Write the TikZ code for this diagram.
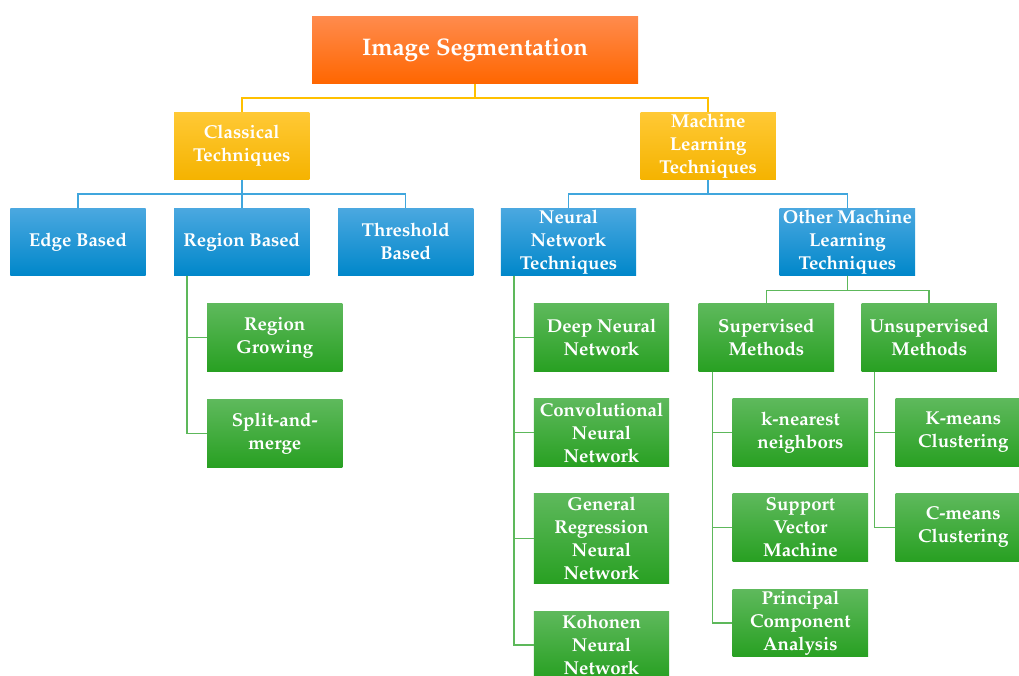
\documentclass[tikz,border=0pt]{standalone}
\usepackage[T1]{fontenc}
\usepackage{mathpazo}
\usetikzlibrary{positioning}
\definecolor{orgtop}{HTML}{FF8B4D}
\definecolor{orgbot}{HTML}{FF6600}
\definecolor{yeltop}{HTML}{FFC935}
\definecolor{yelmid}{HTML}{FFC000}
\definecolor{yelbot}{HTML}{F5B300}
\definecolor{blutop}{HTML}{4BA8E0}
\definecolor{blumid}{HTML}{0099DA}
\definecolor{blubot}{HTML}{0087CA}
\definecolor{grntop}{HTML}{5EB95C}
\definecolor{grnmid}{HTML}{38B030}
\definecolor{grnbot}{HTML}{28A022}
\definecolor{yelline}{HTML}{FFC000}
\definecolor{bluline}{HTML}{40A6DD}
\definecolor{grnline}{HTML}{5DB85B}
\begin{document}
\begin{tikzpicture}[
    x=0.75pt, y=-0.75pt,
    node distance=21pt,
    box/.style   ={align=center, inner sep=1pt, minimum width=101.5pt,
                   minimum height=50.5pt, text=white,
                   font=\fontsize{14}{17.25}\selectfont\bfseries},
    topbox/.style={box, top color=orgtop, bottom color=orgbot,
                   minimum width=244.5pt, font=\fontsize{18}{21}\selectfont\bfseries},
    ybox/.style  ={box, top color=yeltop, middle color=yelmid, bottom color=yelbot},
    bbox/.style  ={box, top color=blutop, middle color=blumid, bottom color=blubot},
    gbox/.style  ={box, top color=grntop, middle color=grnmid, bottom color=grnbot},
    yline/.style ={draw=yelline, line width=1.2pt},
    bline/.style ={draw=bluline, line width=1.2pt},
    gline/.style ={draw=grnline, line width=1.2pt},
]
\useasboundingbox (0,0) rectangle (1019,675);
\clip (0,0) rectangle (1019,675);
% root
\node[topbox] at (475,50) (seg) {Image Segmentation};
% second level
\node[ybox, below left=21pt and 1.5pt of seg] (cls) {Classical\\Techniques};
\node[ybox, below right=21pt and 1.5pt of seg] (ml) {Machine\\Learning\\Techniques};
% classical branch
\node[bbox, below=of cls] (region) {Region Based};
\node[bbox, left=of region] (edge) {Edge Based};
\node[bbox, right=of region] (thresh) {Threshold\\Based};
\node[gbox, below=of region, xshift=24.75pt] (grow) {Region\\Growing};
\node[gbox, below=of grow] (split) {Split-and-\\merge};
% machine learning branch
\node[bbox, right=20.25pt of thresh] (nn) {Neural\\Network\\Techniques};
\node[bbox, right=107.25pt of nn] (oml) {Other Machine\\Learning\\Techniques};
\node[gbox, below=of nn, xshift=24.75pt] (dnn) {Deep Neural\\Network};
\node[gbox, below=20.25pt of dnn] (cnn) {Convolutional\\Neural\\Network};
\node[gbox, below=20.25pt of cnn, minimum height=67.5pt] (grnn) {General\\Regression\\Neural\\Network};
\node[gbox, below=20.25pt of grnn] (koh) {Kohonen\\Neural\\Network};
% other methods
\node[gbox, below=of oml, xshift=-60.75pt] (sup) {Supervised\\Methods};
\node[gbox, right=20.25pt of sup] (unsup) {Unsupervised\\Methods};
\node[gbox, below=20.25pt of sup, xshift=25.5pt] (knn) {k-nearest\\neighbors};
\node[gbox, below=20.25pt of knn] (svm) {Support\\Vector\\Machine};
\node[gbox, below=of svm] (pca) {Principal\\Component\\Analysis};
\node[gbox, below=20.25pt of unsup, xshift=25.5pt] (kmeans) {K-means\\Clustering};
\node[gbox, below=20.25pt of kmeans] (cmeans) {C-means\\Clustering};
% connectors
\draw[yline] (seg.south) -- ++(0,14) -| (cls.north);
\draw[yline] (seg.south) -- ++(0,14) -| (ml.north);
\foreach \c in {edge, region, thresh}
  \draw[bline] (cls.south) -- ++(0,14) -| (\c.north);
\foreach \c in {nn, oml}
  \draw[bline] (ml.south) -- ++(0,14) -| (\c.north);
\foreach \c in {sup, unsup}
  \draw[gline] (oml.south) -- ++(0,15) -| (\c.north);
\foreach \c in {grow, split}
  \draw[gline] ([xshift=10pt]region.south west) |- (\c.west);
\foreach \c in {dnn, cnn, grnn, koh}
  \draw[gline] ([xshift=10pt]nn.south west) |- (\c.west);
\foreach \c in {knn, svm, pca}
  \draw[gline] ([xshift=10.5pt]sup.south west) |- (\c.west);
\foreach \c in {kmeans, cmeans}
  \draw[gline] ([xshift=10pt]unsup.south west) |- (\c.west);
\end{tikzpicture}
\end{document}
